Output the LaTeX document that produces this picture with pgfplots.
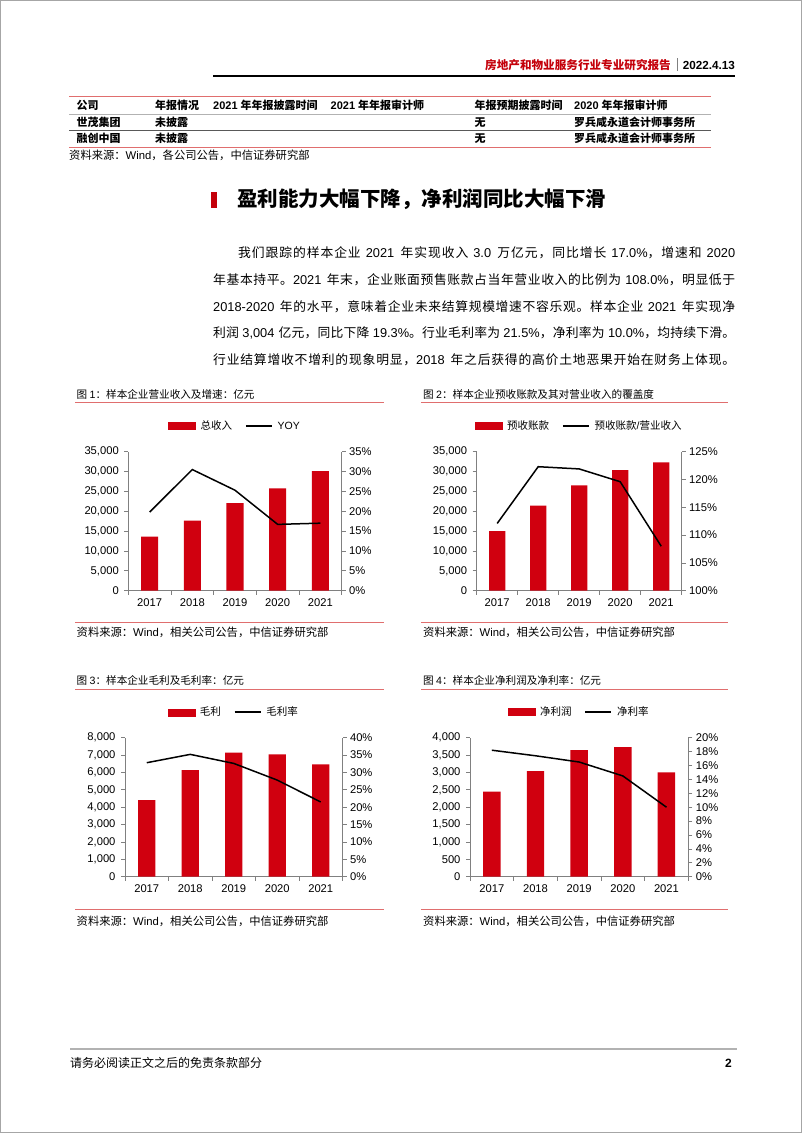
\documentclass[border=0pt]{standalone}
\usepackage{fontspec}
\setmainfont{Liberation Sans}
\newfontfamily\cjk{Noto Sans CJK SC}
\usepackage{pgfplots}
\pgfplotsset{compat=1.18}

% automatic switch between Latin and CJK fonts
\XeTeXinterchartokenstate=1
\newXeTeXintercharclass\CJKcls
\newcount\cc
\cc="3000 \loop\XeTeXcharclass\cc=\CJKcls\ifnum\cc<"303F\advance\cc by 1\repeat
\cc="4E00 \loop\XeTeXcharclass\cc=\CJKcls\ifnum\cc<"9FFF\advance\cc by 1\repeat
\cc="FF00 \loop\XeTeXcharclass\cc=\CJKcls\ifnum\cc<"FFEF\advance\cc by 1\repeat
\XeTeXinterchartoks 0 \CJKcls = {\cjk}
\XeTeXinterchartoks 4095 \CJKcls = {\cjk}
\XeTeXinterchartoks \CJKcls 0 = {\rmfamily}
\XeTeXinterchartoks 4095 0 = {\rmfamily}
\XeTeXinterchartoks \CJKcls \CJKcls = {\hskip 0pt plus 0.6pt\relax}

\newcommand\fs[1]{\fontsize{#1}{#1}\selectfont}
\definecolor{barred}{RGB}{208,0,15}
\definecolor{hdrred}{RGB}{196,0,10}
\definecolor{lightred}{RGB}{224,110,110}
\definecolor{axgray}{RGB}{128,128,128}

\pgfplotsset{
  baseax/.style={scale only axis, height=139pt, xmin=-0.5, xmax=4.5, ymin=0,
    tick align=outside, major tick length=4pt, minor tick length=4pt,
    axis line style={draw=axgray, line width=0.75pt},
    tick style={draw=axgray, line width=0.75pt},
    ticklabel style={font=\fs{11.2}},
    /pgf/number format/assume math mode=true,
    /pgf/number format/1000 sep={,},
    scaled y ticks=false},
  leftax/.style={baseax, axis x line*=bottom, axis y line*=left,
    xtick={0,1,2,3,4}, xticklabels={2017,2018,2019,2020,2021},
    minor xtick={-0.5,0.5,1.5,2.5,3.5,4.5},
    major x tick style={draw=none},
    yticklabel style={xshift=-2pt}},
  rightax/.style={baseax, axis x line=none, axis y line*=right,
    xtick=\empty, yticklabel={\pgfmathprintnumber{\tick}\%},
    legend columns=2,
    legend style={at={(0.5,1)}, anchor=center, yshift=25.5pt, draw=none, fill=none,
      font=\fs{10.5}, inner sep=0pt,
      /tikz/every odd column/.append style={column sep=3pt},
      /tikz/every even column/.append style={column sep=11pt}}},
  barleg/.style={legend image code/.code={\fill[barred] (0pt,-3.5pt) rectangle (27pt,3.5pt);}},
  lineplot/.style={black, line width=1.5pt, mark=none,
    legend image code/.code={\draw[black, line width=1.5pt] (0pt,0pt) -- (26pt,0pt);}},
}

\begin{document}
\begin{tikzpicture}[x=1pt,y=1pt]
\useasboundingbox (0,0) rectangle (802,1133);
\draw[gray!70, line width=1pt] (0.5,0.5) rectangle (801.5,1132.5);

% header
\node[anchor=east, inner sep=0, text=hdrred, font=\fs{11.6}\bfseries] at (671,1068) {房地产和物业服务行业专业研究报告};
\draw[gray, line width=0.6pt] (677,1074.5) -- (677,1061.5);
\node[anchor=east, inner sep=0, font=\fs{11.7}\bfseries] at (735,1068) {2022.4.13};
\draw[black, line width=2pt] (213,1056.5) -- (735,1056.5);

% table
\draw[lightred, line width=0.9pt] (69,1036.5) -- (711,1036.5);
\draw[gray!60, line width=0.7pt] (69,1019) -- (711,1019);
\draw[black!65, line width=1.4pt] (69,1002.3) -- (711,1002.3);
\draw[lightred, line width=0.9pt] (69,986) -- (711,986);
\begin{scope}[every node/.style={anchor=west, inner sep=0, font=\fs{11}\bfseries}]
\node at (76.5,1027.5) {公司};
\node at (155,1027.5) {年报情况};
\node at (213,1027.5) {2021 年年报披露时间};
\node at (330.5,1027.5) {2021 年年报审计师};
\node at (474.5,1027.5) {年报预期披露时间};
\node at (574,1027.5) {2020 年年报审计师};
\node at (76.5,1010.5) {世茂集团};
\node at (155,1010.5) {未披露};
\node at (474.5,1010.5) {无};
\node at (574,1010.5) {罗兵咸永道会计师事务所};
\node at (76.5,994.5) {融创中国};
\node at (155,994.5) {未披露};
\node at (474.5,994.5) {无};
\node at (574,994.5) {罗兵咸永道会计师事务所};
\end{scope}
\node[anchor=west, inner sep=0, font=\fs{11.3}] at (69,977.3) {资料来源：Wind，各公司公告，中信证券研究部};

% section heading
\fill[hdrred] (210.5,924.7) rectangle (217,941.3);
\node[anchor=west, inner sep=0, font=\fs{20.5}\bfseries] at (237,933.5) {盈利能力大幅下降，净利润同比大幅下滑};

% paragraph
\begin{scope}[every node/.style={anchor=west, inner sep=0, font=\fs{12.8}}]
\node at (238,880) {\hbox to 497pt{我们跟踪的样本企业 2021 年实现收入 3.0 万亿元，同比增长 17.0\%，增速和 2020}};
\node at (213,853.3) {\hbox to 522pt{年基本持平。2021 年末，企业账面预售账款占当年营业收入的比例为 108.0\%，明显低于}};
\node at (213,826.6) {\hbox to 522pt{2018-2020 年的水平，意味着企业未来结算规模增速不容乐观。样本企业 2021 年实现净}};
\node at (213,800) {\hbox to 522pt{利润 3,004 亿元，同比下降 19.3\%。行业毛利率为 21.5\%，净利率为 10.0\%，均持续下滑。}};
\node at (213,773.3) {\hbox to 522pt{行业结算增收不增利的现象明显，2018 年之后获得的高价土地恶果开始在财务上体现。}};
\end{scope}

% chart titles, rules, sources
\begin{scope}[every node/.style={anchor=west, inner sep=0, font=\fs{10.6}}]
\node at (76.5,739) {图 1：样本企业营业收入及增速：亿元};
\node at (423,739) {图 2：样本企业预收账款及其对营业收入的覆盖度};
\node at (76.5,453) {图 3：样本企业毛利及毛利率：亿元};
\node at (423,453) {图 4：样本企业净利润及净利率：亿元};
\end{scope}
\begin{scope}[lightred, line width=1pt]
\draw (75,730.3) -- (384,730.3);
\draw (421,730.3) -- (728,730.3);
\draw (75,443.7) -- (384,443.7);
\draw (421,443.7) -- (728,443.7);
\draw (75,510.3) -- (384,510.3);
\draw (421,510.3) -- (728,510.3);
\draw (75,223) -- (384,223);
\draw (421,223) -- (728,223);
\end{scope}
\begin{scope}[every node/.style={anchor=west, inner sep=0, font=\fs{11.3}}]
\node at (76.5,501) {资料来源：Wind，相关公司公告，中信证券研究部};
\node at (423,501) {资料来源：Wind，相关公司公告，中信证券研究部};
\node at (76.5,211.3) {资料来源：Wind，相关公司公告，中信证券研究部};
\node at (423,211.3) {资料来源：Wind，相关公司公告，中信证券研究部};
\end{scope}

% ---------- Chart 1 ----------
\begin{axis}[leftax, at={(128.3pt,542.3pt)}, anchor=south west, width=213.4pt,
  ymax=35000, ytick distance=5000]
\addplot[ybar, bar width=0.4, fill=barred, draw=none] coordinates {(0,13590) (1,17620) (2,22060) (3,25750) (4,30100)};
\end{axis}
\begin{axis}[rightax, at={(128.3pt,542.3pt)}, anchor=south west, width=213.4pt,
  ymax=35, ytick distance=5]
\addlegendimage{barleg}\addlegendentry{总收入}
\addplot[lineplot] coordinates {(0,19.8) (1,30.5) (2,25.3) (3,16.7) (4,17.0)};
\addlegendentry{YOY}
\end{axis}

% ---------- Chart 2 ----------
\begin{axis}[leftax, at={(476.7pt,542.3pt)}, anchor=south west, width=205pt,
  ymax=35000, ytick distance=5000]
\addplot[ybar, bar width=0.4, fill=barred, draw=none] coordinates {(0,15020) (1,21390) (2,26510) (3,30370) (4,32300)};
\end{axis}
\begin{axis}[rightax, at={(476.7pt,542.3pt)}, anchor=south west, width=205pt,
  ymin=100, ymax=125, ytick distance=5]
\addlegendimage{barleg}\addlegendentry{预收账款}
\addplot[lineplot] coordinates {(0,112.1) (1,122.3) (2,121.9) (3,119.6) (4,108.0)};
\addlegendentry{预收账款/营业收入}
\end{axis}

% ---------- Chart 3 ----------
\begin{axis}[leftax, at={(125pt,256.3pt)}, anchor=south west, width=217.5pt,
  ymax=8000, ytick distance=1000]
\addplot[ybar, bar width=0.4, fill=barred, draw=none] coordinates {(0,4410) (1,6140) (2,7140) (3,7040) (4,6470)};
\end{axis}
\begin{axis}[rightax, at={(125pt,256.3pt)}, anchor=south west, width=217.5pt,
  ymax=40, ytick distance=5]
\addlegendimage{barleg}\addlegendentry{毛利}
\addplot[lineplot] coordinates {(0,32.8) (1,35.2) (2,32.6) (3,27.8) (4,21.5)};
\addlegendentry{毛利率}
\end{axis}

% ---------- Chart 4 ----------
\begin{axis}[leftax, at={(470pt,256.3pt)}, anchor=south west, width=218.3pt,
  ymax=4000, ytick distance=500]
\addplot[ybar, bar width=0.4, fill=barred, draw=none] coordinates {(0,2450) (1,3040) (2,3640) (3,3730) (4,3004)};
\end{axis}
\begin{axis}[rightax, at={(470pt,256.3pt)}, anchor=south west, width=218.3pt,
  ymax=20, ytick distance=2]
\addlegendimage{barleg}\addlegendentry{净利润}
\addplot[lineplot] coordinates {(0,18.2) (1,17.4) (2,16.5) (3,14.5) (4,10.0)};
\addlegendentry{净利率}
\end{axis}

% footer
\draw[gray!60, line width=1.5pt] (70,84) -- (737,84);
\node[anchor=west, inner sep=0, font=\fs{12}] at (70,70) {请务必阅读正文之后的免责条款部分};
\node[anchor=east, inner sep=0, font=\fs{12}\bfseries] at (732,70) {2};
\end{tikzpicture}
\end{document}
